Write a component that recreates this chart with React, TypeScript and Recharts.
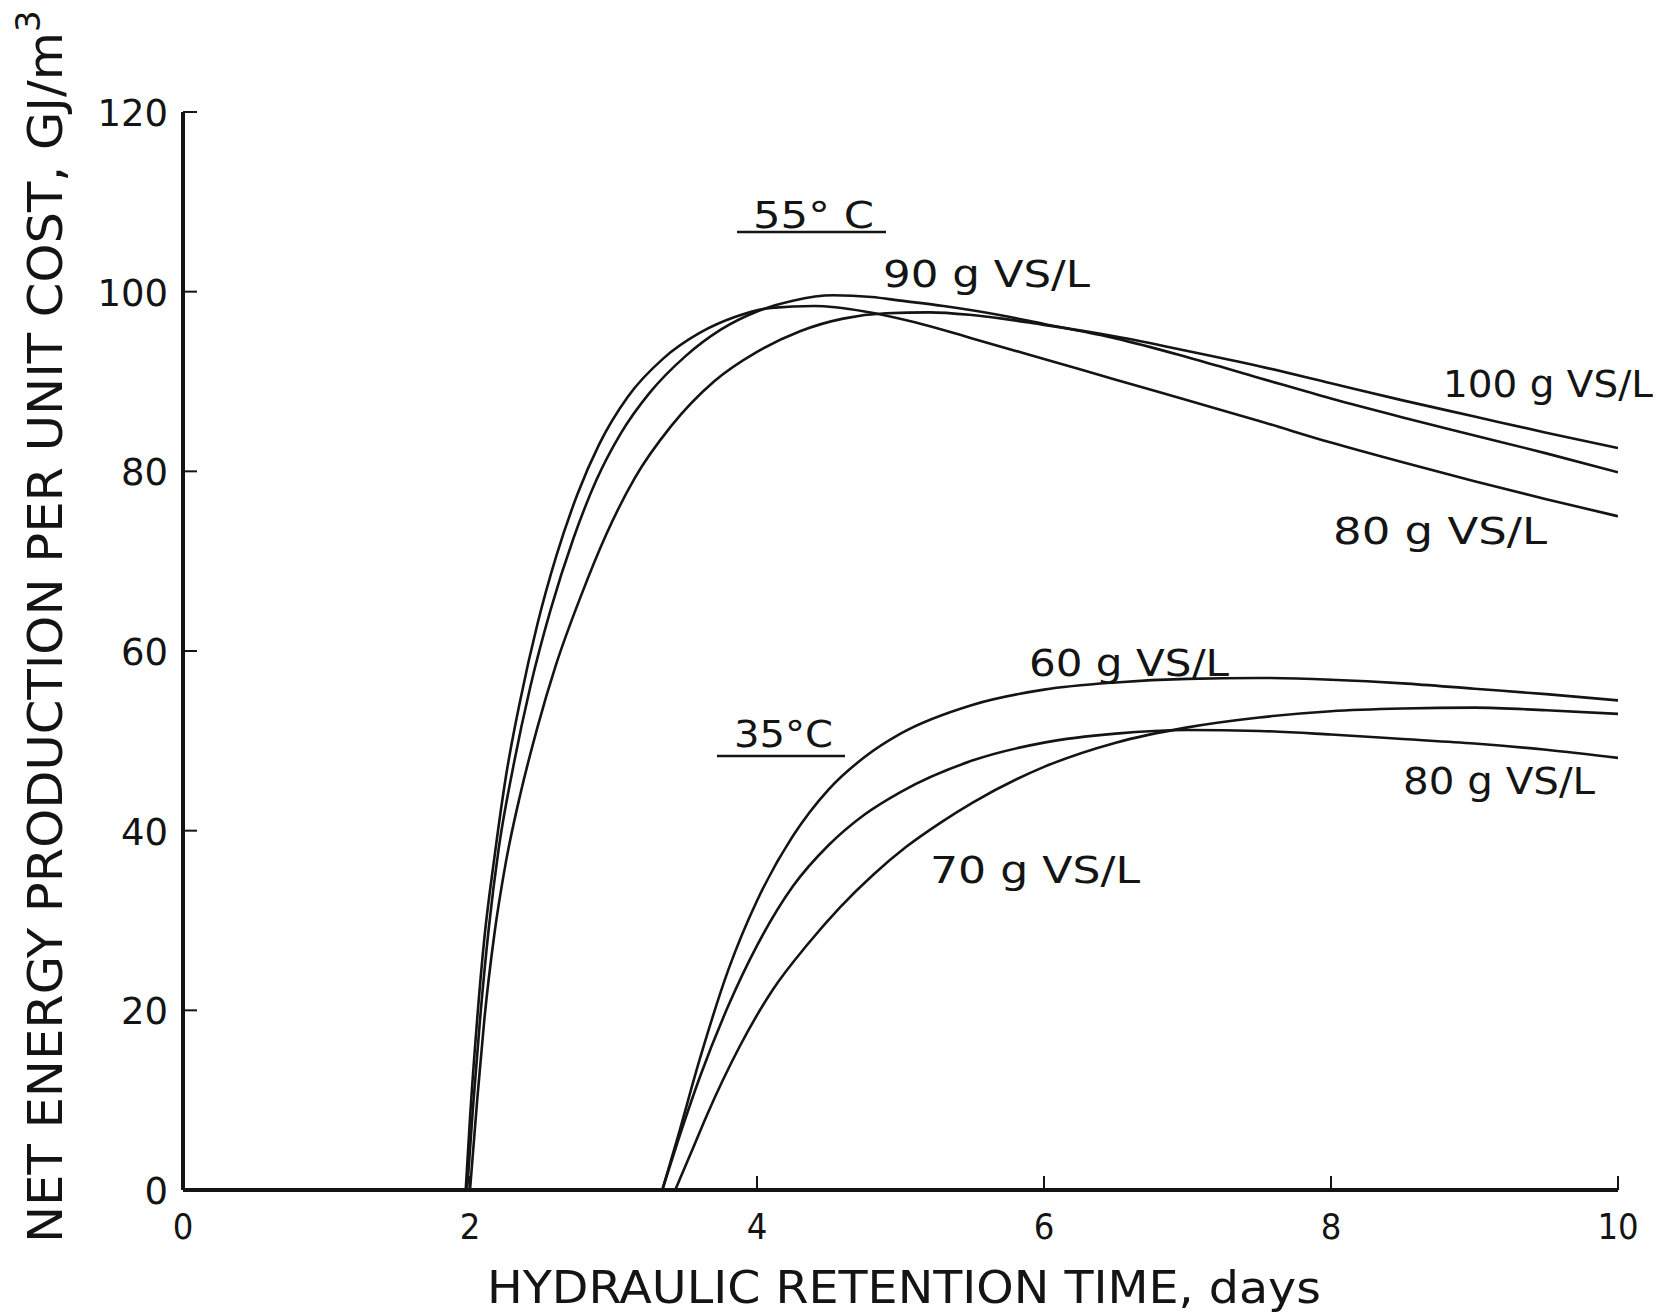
import { LineChart, Line, XAxis, YAxis } from "recharts";

// 55 C curves (hydraulic retention time, days -> net energy, GJ/m3)
const hrt55g80 = [1.97, 2.0, 2.05, 2.1, 2.17, 2.25, 2.35, 2.47, 2.6, 2.75, 2.9, 3.1, 3.35, 3.6, 3.85, 4.1, 4.4, 4.75, 5.1, 5.5, 6.0, 6.5, 7.0, 7.5, 8.0, 8.5, 9.0, 9.5, 10];
const net55g80 = [0, 8, 19, 28, 37, 46, 54.5, 63, 70.5, 77.5, 83, 88.3, 92.6, 95.4, 97.2, 98.2, 98.4, 97.8, 96.6, 94.8, 92.5, 90.2, 87.9, 85.6, 83.2, 81.0, 78.9, 76.9, 75.0];

const hrt55g90 = [1.98, 2.02, 2.07, 2.13, 2.2, 2.3, 2.42, 2.56, 2.72, 2.88, 3.05, 3.25, 3.5, 3.75, 4.0, 4.25, 4.53, 4.8, 5.0, 5.3, 5.69, 6.0, 6.5, 7.0, 7.5, 8.0, 8.5, 9.0, 9.5, 10];
const net55g90 = [0, 9, 19, 29, 38, 47, 56, 64.5, 72.5, 79, 84.2, 88.7, 92.8, 95.8, 97.8, 99.0, 99.6, 99.4, 99.0, 98.4, 97.4, 96.4, 94.8, 92.7, 90.4, 88.1, 86.0, 84.0, 82.0, 79.9];

const hrt55g100 = [2.0, 2.05, 2.1, 2.17, 2.25, 2.35, 2.47, 2.6, 2.77, 2.95, 3.15, 3.4, 3.7, 4.0, 4.3, 4.6, 4.9, 5.2, 5.5, 6.0, 6.5, 7.0, 7.5, 8.0, 8.5, 9.0, 9.5, 10];
const net55g100 = [0, 10, 19, 28.5, 36.5, 44, 51.5, 58.5, 66, 73, 79.3, 85, 90, 93.3, 95.6, 97.0, 97.6, 97.7, 97.4, 96.3, 95.0, 93.4, 91.7, 89.8, 87.9, 86.1, 84.3, 82.6];

// 35 C curves
const hrt35g60 = [3.34, 3.45, 3.6, 3.8, 4.0, 4.25, 4.5, 4.75, 5.0, 5.5, 6.0, 6.5, 7.0, 7.5, 8.0, 8.5, 9.0, 9.5, 10];
const net35g60 = [0, 6, 14.5, 24.5, 32.2, 39.4, 44.6, 48.2, 50.8, 54.0, 55.7, 56.5, 56.9, 57.0, 56.8, 56.4, 55.8, 55.2, 54.5];

const hrt35g80 = [3.34, 3.45, 3.6, 3.8, 4.0, 4.25, 4.5, 4.75, 5.0, 5.5, 6.0, 6.5, 7.0, 7.5, 8.0, 8.5, 9.0, 9.5, 10];
const net35g80 = [0, 5.5, 12.5, 20.5, 27.2, 33.8, 38.4, 41.8, 44.3, 47.8, 49.8, 50.8, 51.2, 51.1, 50.7, 50.2, 49.7, 49.0, 48.1];

const hrt35g70 = [3.43, 3.55, 3.65, 3.88, 4.11, 4.35, 4.58, 4.81, 5.04, 5.28, 5.5, 6.0, 6.5, 7.0, 7.5, 8.0, 8.5, 9.0, 9.5, 10];
const net35g70 = [0, 4.5, 8.3, 16, 22.3, 27.3, 31.5, 35.1, 38.2, 40.9, 43.1, 47.1, 49.8, 51.5, 52.6, 53.3, 53.6, 53.7, 53.4, 53.0];

const xTicks = [0, 2, 4, 6, 8, 10];
const yTicks = [0, 20, 40, 60, 80, 100, 120];

const zip = (xs: number[], ys: number[]) => xs.map((x, i) => ({ x, y: ys[i] }));

const series = [
  zip(hrt55g80, net55g80),
  zip(hrt55g90, net55g90),
  zip(hrt55g100, net55g100),
  zip(hrt35g60, net35g60),
  zip(hrt35g80, net35g80),
  zip(hrt35g70, net35g70),
];

const INK = "#141414";
const SANS = "'DejaVu Sans', sans-serif";
const NARROW = "'DejaVu Sans Condensed', 'DejaVu Sans', sans-serif";

function YTick(props: any) {
  const { x, y, payload } = props;
  return (
    <g>
      {payload.value > 0 && <line x1={x} x2={x + 14} y1={y} y2={y} stroke={INK} strokeWidth={2} />}
      <text x={x - 15} y={y + 14} textAnchor="end" fontFamily={SANS} fontSize={37} fill={INK}>
        {payload.value}
      </text>
    </g>
  );
}

function XTick(props: any) {
  const { x, y, payload } = props;
  return (
    <g>
      {payload.value > 0 && <line x1={x} x2={x} y1={y} y2={y - 14} stroke={INK} strokeWidth={2} />}
      <text x={x} y={y + 49} textAnchor="middle" fontFamily={NARROW} fontSize={36} fill={INK}>
        {payload.value}
      </text>
    </g>
  );
}

const labels = [
  { text: "55° C", x: 753, y: 228, w: 121 },
  { text: "90 g VS/L", x: 883, y: 287, w: 207 },
  { text: "100 g VS/L", x: 1443, y: 397, w: 210 },
  { text: "80 g VS/L", x: 1333, y: 544, w: 214 },
  { text: "60 g VS/L", x: 1029, y: 676, w: 200 },
  { text: "35°C", x: 734, y: 747, w: 99 },
  { text: "80 g VS/L", x: 1403, y: 794, w: 192 },
  { text: "70 g VS/L", x: 930, y: 883, w: 210 },
];

export default function App() {
  return (
    <div style={{ position: "absolute", left: 0, top: 0, width: 1668, height: 1314, background: "#fff" }}>
      <LineChart width={1668} height={1314} margin={{ top: 112, right: 50, bottom: 0, left: 0 }}>
        <XAxis
          type="number"
          dataKey="x"
          domain={[0, 10]}
          ticks={xTicks}
          height={124}
          tickSize={0}
          tickMargin={0}
          tick={<XTick />}
          axisLine={{ stroke: INK, strokeWidth: 4 }}
          tickLine={false}
          allowDataOverflow
        />
        <YAxis
          type="number"
          dataKey="y"
          domain={[0, 120]}
          ticks={yTicks}
          width={183}
          tickSize={0}
          tickMargin={0}
          tick={<YTick />}
          axisLine={{ stroke: INK, strokeWidth: 4 }}
          tickLine={false}
          allowDataOverflow
        />
        {series.map((d, i) => (
          <Line
            key={i}
            data={d}
            dataKey="y"
            type="monotone"
            stroke={INK}
            strokeWidth={2.6}
            dot={false}
            activeDot={false}
            isAnimationActive={false}
          />
        ))}
      </LineChart>
      <svg
        width={1668}
        height={1314}
        style={{ position: "absolute", left: 0, top: 0, pointerEvents: "none" }}
      >
        {labels.map((l, i) => (
          <text
            key={i}
            x={l.x}
            y={l.y}
            fontFamily={SANS}
            fontSize={38}
            fill={INK}
            textLength={l.w}
            lengthAdjust="spacingAndGlyphs"
          >
            {l.text}
          </text>
        ))}
        <line x1={737} x2={886} y1={232} y2={232} stroke={INK} strokeWidth={2.5} />
        <line x1={717} x2={845} y1={756} y2={756} stroke={INK} strokeWidth={2.5} />
        <text
          x={487}
          y={1303}
          fontFamily={NARROW}
          fontSize={44}
          fill={INK}
          textLength={834}
          lengthAdjust="spacingAndGlyphs"
        >
          HYDRAULIC RETENTION TIME, days
        </text>
        <text
          transform="translate(62,1243) rotate(-90)"
          fontFamily={SANS}
          fontSize={48}
          fill={INK}
          textLength={1211}
          lengthAdjust="spacingAndGlyphs"
        >
          NET ENERGY PRODUCTION PER UNIT COST, GJ/m
        </text>
        <text transform="translate(40,32) rotate(-90)" fontFamily={SANS} fontSize={34} fill={INK}>
          3
        </text>
      </svg>
    </div>
  );
}
